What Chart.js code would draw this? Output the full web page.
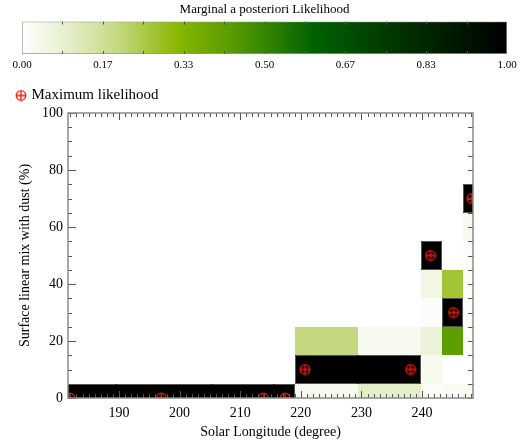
<!DOCTYPE html>
<html>
<head>
<style>
  body { margin: 0; background: #fff; }
  #wrap { position: relative; width: 522px; height: 445px; }
  #cbarBox { position: absolute; left: 0; top: 0; width: 522px; height: 80px; }
  #mainBox { position: absolute; left: 0; top: 80px; width: 522px; height: 365px; }
</style>
<script src="https://cdn.jsdelivr.net/npm/chart.js"></script>
</head>
<body>
<div id="wrap">
  <div id="cbarBox"><canvas id="cbar"></canvas></div>
  <div id="mainBox"><canvas id="likeChart"></canvas></div>
</div>
<script>
// colour bar ticks
var cbarTickValues = [0, 0.1667, 0.3333, 0.5, 0.6667, 0.8333, 1];
var cbarTickLabels = ['0.00', '0.17', '0.33', '0.50', '0.67', '0.83', '1.00'];

// axes
var lonTicks = [190, 200, 210, 220, 230, 240];
var dustTicks = [0, 20, 40, 60, 80, 100];

// solar longitude edges of each observation column (degree)
var lonEdges = [174, 189.5, 205.4, 215.6, 219.05, 229.4, 239.75, 243.3, 246.75, 250];
// dust mix levels (%), one grid row each
var dustLevels = [0, 10, 20, 30, 40, 50, 60, 70, 80, 90, 100];

// marginal likelihood per column, one value per dust level
var col182 = [1, 0, 0, 0, 0, 0, 0, 0, 0, 0, 0];
var col197 = [1, 0, 0, 0, 0, 0, 0, 0, 0, 0, 0];
var col214 = [1, 0, 0, 0, 0, 0, 0, 0, 0, 0, 0];
var col217 = [1, 0, 0, 0, 0, 0, 0, 0, 0, 0, 0];
var col221 = [0.03, 1, 0.2, 0, 0, 0, 0, 0, 0, 0, 0];
var col238 = [0.1, 1, 0.03, 0, 0, 0, 0, 0, 0, 0, 0];
var col241 = [0.015, 0.03, 0.07, 0.01, 0.05, 1, 0, 0, 0, 0, 0];
var col245 = [0.025, 0, 0.42, 1, 0.27, 0, 0, 0, 0, 0, 0];
var col248 = [0.025, 0, 0.01, 0.01, 0.01, 0.01, 0.03, 1, 0, 0, 0];
var likelihood = [col182, col197, col214, col217, col221, col238, col241, col245, col248];

// maximum likelihood points
var maxLon = [181.9, 197.0, 213.8, 217.4, 220.7, 238.1, 241.4, 245.2, 248.2];
var maxDust = [0, 0, 0, 0, 10, 10, 50, 30, 70];

// white -> yellow green -> dark green -> black
var cmap = [
  [0, 255, 255, 255],
  [0.1, 228, 238, 200],
  [0.2, 195, 216, 128],
  [0.32, 138, 183, 0],
  [0.45, 80, 150, 0],
  [0.6, 0, 98, 0],
  [0.8, 0, 45, 0],
  [1, 0, 0, 0]
];

function colourAt(p) {
  for (var i = 1; i < cmap.length; i++) {
    if (p <= cmap[i][0]) {
      var a = cmap[i - 1], b = cmap[i];
      var t = (p - a[0]) / (b[0] - a[0]);
      var c = [1, 2, 3].map(function (k) { return Math.round(a[k] + (b[k] - a[k]) * t); });
      return 'rgb(' + c.join(',') + ')';
    }
  }
  return 'rgb(0,0,0)';
}

var serif = 'Liberation Serif, Times New Roman, serif';
var axisGrey = '#8a8a8a';
var tickGrey = '#555';

// ---------- colour bar ----------
var cbarTicksPlugin = {
  id: 'cbarTicks',
  afterDatasetsDraw: function (chart) {
    var ctx = chart.ctx, xs = chart.scales.x, a = chart.chartArea;
    ctx.save();
    ctx.strokeStyle = tickGrey;
    ctx.lineWidth = 1;
    for (var k = 1; k < 12; k++) {
      var x = Math.round(xs.getPixelForValue(k / 12)) + 0.5;
      ctx.beginPath();
      ctx.moveTo(x, a.top); ctx.lineTo(x, a.top + 3);
      ctx.moveTo(x, a.bottom); ctx.lineTo(x, a.bottom - 3);
      ctx.stroke();
    }
    ctx.restore();
  }
};

new Chart(document.getElementById('cbar'), {
  type: 'bar',
  data: {
    labels: [''],
    datasets: [{
      data: [[0, 1]],
      backgroundColor: function (c) {
        var area = c.chart.chartArea;
        if (!area) return '#fff';
        var g = c.chart.ctx.createLinearGradient(area.left, 0, area.right, 0);
        cmap.forEach(function (s) { g.addColorStop(s[0], 'rgb(' + s[1] + ',' + s[2] + ',' + s[3] + ')'); });
        return g;
      },
      borderColor: '#999',
      borderWidth: 1,
      borderSkipped: false,
      barPercentage: 1,
      categoryPercentage: 1
    }]
  },
  options: {
    indexAxis: 'y',
    responsive: true,
    maintainAspectRatio: false,
    animation: false,
    layout: { padding: { left: 22, right: 15, top: 0, bottom: 0 } },
    plugins: {
      legend: { display: false },
      tooltip: { enabled: false },
      title: {
        display: true,
        text: 'Marginal a posteriori Likelihood',
        color: '#000',
        font: { family: serif, size: 13, weight: 'normal' },
        padding: { top: 2, bottom: 4 }
      }
    },
    scales: {
      x: {
        type: 'linear', min: 0, max: 1,
        afterBuildTicks: function (s) { s.ticks = cbarTickValues.map(function (v) { return { value: v }; }); },
        afterFit: function (s) { s.height = 26; },
        grid: { display: false, drawTicks: false },
        border: { display: false },
        ticks: {
          padding: 5, color: '#000', maxRotation: 0, autoSkip: false,
          font: { family: serif, size: 11 },
          callback: function (v, i) { return cbarTickLabels[i]; }
        }
      },
      y: { display: false }
    }
  },
  plugins: [cbarTicksPlugin]
});

// ---------- main chart ----------
function makeMarker() {
  var c = document.createElement('canvas');
  c.width = 12; c.height = 12;
  var g = c.getContext('2d');
  g.strokeStyle = '#f01a0a';
  g.lineWidth = 1.3;
  g.beginPath(); g.arc(6, 6, 4.8, 0, 2 * Math.PI); g.stroke();
  g.beginPath();
  g.moveTo(6, 1.2); g.lineTo(6, 10.8);
  g.moveTo(1.2, 6); g.lineTo(10.8, 6);
  g.stroke();
  return c;
}

function isBlack(i, j) {
  return i >= 0 && i < likelihood.length && j >= 0 && j < dustLevels.length && likelihood[i][j] >= 0.99;
}

var cellPlugin = {
  id: 'cells',
  beforeDatasetsDraw: function (chart) {
    var ctx = chart.ctx, xs = chart.scales.x, ys = chart.scales.y, a = chart.chartArea;
    var half = 5;
    function px(v) { return Math.round(xs.getPixelForValue(v)); }
    function py(v) { return Math.round(ys.getPixelForValue(v)); }
    ctx.save();
    ctx.beginPath(); ctx.rect(a.left, a.top, a.width, a.height); ctx.clip();
    likelihood.forEach(function (col, i) {
      var x0 = px(lonEdges[i]), x1 = px(lonEdges[i + 1]);
      col.forEach(function (p, j) {
        if (p <= 0) return;
        var y0 = py(dustLevels[j] + half), y1 = py(dustLevels[j] - half);
        ctx.fillStyle = colourAt(p);
        ctx.fillRect(x0, y0, x1 - x0, y1 - y0);
      });
    });
    // grey outline round the black blocks
    ctx.strokeStyle = '#555';
    ctx.lineWidth = 1;
    likelihood.forEach(function (col, i) {
      var x0 = px(lonEdges[i]) + 0.5, x1 = px(lonEdges[i + 1]) - 0.5;
      col.forEach(function (p, j) {
        if (!isBlack(i, j)) return;
        var y0 = py(dustLevels[j] + half) + 0.5, y1 = py(dustLevels[j] - half) - 0.5;
        ctx.beginPath();
        if (!isBlack(i - 1, j)) { ctx.moveTo(x0, y0); ctx.lineTo(x0, y1); }
        if (!isBlack(i + 1, j)) { ctx.moveTo(x1, y0); ctx.lineTo(x1, y1); }
        if (!isBlack(i, j + 1)) { ctx.moveTo(x0, y0); ctx.lineTo(x1, y0); }
        if (!isBlack(i, j - 1)) { ctx.moveTo(x0, y1); ctx.lineTo(x1, y1); }
        ctx.stroke();
      });
    });
    ctx.restore();
  }
};

var framePlugin = {
  id: 'frame',
  afterDatasetsDraw: function (chart) {
    var ctx = chart.ctx, xs = chart.scales.x, ys = chart.scales.y, a = chart.chartArea;
    ctx.save();
    ctx.strokeStyle = tickGrey;
    ctx.lineWidth = 1;
    ctx.beginPath();
    for (var lon = 182; lon <= 248; lon++) {
      var x = Math.round(xs.getPixelForValue(lon)) + 0.5;
      var len = lon % 10 === 0 ? 7 : 4;
      ctx.moveTo(x, a.bottom); ctx.lineTo(x, a.bottom - len);
      ctx.moveTo(x, a.top); ctx.lineTo(x, a.top + len);
    }
    for (var d = 0; d <= 100; d += 5) {
      var y = Math.round(ys.getPixelForValue(d)) + 0.5;
      var l2 = d % 20 === 0 ? 8 : 4;
      ctx.moveTo(a.left, y); ctx.lineTo(a.left + l2, y);
      ctx.moveTo(a.right, y); ctx.lineTo(a.right - 5, y);
    }
    ctx.stroke();
    ctx.strokeStyle = axisGrey;
    ctx.lineWidth = 1.5;
    ctx.strokeRect(a.left, a.top, a.width, a.height);
    ctx.restore();
  }
};

var textFont = { family: serif, size: 14 };

new Chart(document.getElementById('likeChart'), {
  type: 'scatter',
  data: {
    datasets: [{
      label: 'Maximum likelihood',
      data: maxLon.map(function (x, i) { return { x: x, y: maxDust[i] }; }),
      pointStyle: makeMarker(),
      clip: 0
    }]
  },
  options: {
    responsive: true,
    maintainAspectRatio: false,
    animation: false,
    layout: { padding: { left: 10, right: 49, top: 0, bottom: 0 } },
    plugins: {
      tooltip: { enabled: false },
      legend: {
        position: 'top',
        align: 'start',
        labels: {
          usePointStyle: true,
          pointStyleWidth: 6,
          padding: 8,
          color: '#000',
          font: { family: serif, size: 15 }
        }
      }
    },
    scales: {
      x: {
        type: 'linear', min: 181.6, max: 248.4,
        afterBuildTicks: function (s) { s.ticks = lonTicks.map(function (v) { return { value: v }; }); },
        afterFit: function (s) { s.height = 47; },
        grid: { display: false, drawTicks: false },
        border: { display: false },
        ticks: { padding: 7, color: '#000', font: textFont, maxRotation: 0 },
        title: { display: true, text: 'Solar Longitude (degree)', color: '#000', font: textFont, padding: { top: 4, bottom: 4 } }
      },
      y: {
        type: 'linear', min: 0, max: 100,
        afterBuildTicks: function (s) { s.ticks = dustTicks.map(function (v) { return { value: v }; }); },
        afterFit: function (s) { s.width = 58; },
        grid: { display: false, drawTicks: false },
        border: { display: false },
        ticks: { padding: 5, color: '#000', font: textFont },
        title: { display: true, text: 'Surface linear mix with dust (%)', color: '#000', font: textFont, padding: { top: 7, bottom: 4 } }
      }
    }
  },
  plugins: [cellPlugin, framePlugin]
});
</script>
</body>
</html>
